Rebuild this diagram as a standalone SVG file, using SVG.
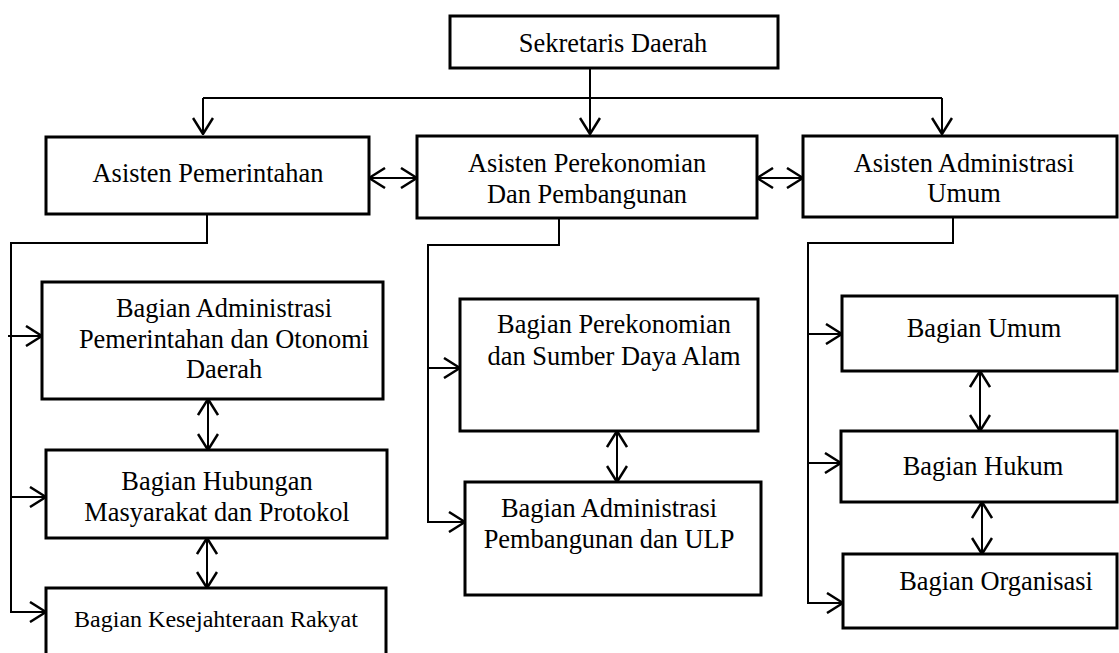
<svg xmlns="http://www.w3.org/2000/svg" width="1119" height="653" viewBox="0 0 1119 653">
<style>
.box{fill:#fff;stroke:#000;stroke-width:3}
.t{font-family:"Liberation Serif","Times New Roman",serif;font-size:26.4px;fill:#000;text-anchor:middle}
.s{font-size:24px}
.c{fill:none;stroke:#000;stroke-width:2}
.a{marker-end:url(#ah)}
.d{marker-start:url(#ah);marker-end:url(#ah)}
</style>
<defs>
<marker id="ah" viewBox="0 0 18 22" refX="17" refY="11" markerWidth="18" markerHeight="22" markerUnits="userSpaceOnUse" orient="auto-start-reverse">
<path d="M1,1 L17,11 L1,21" fill="none" stroke="#000" stroke-width="2.5"/>
</marker>
</defs>
<rect width="1119" height="653" fill="#fff"/>
<g id="connectors">
<path class="c a" d="M590,68 V134"/>
<path class="c" d="M203,98 H942"/>
<path class="c a" d="M203,98 V134"/>
<path class="c a" d="M942,98 V134"/>
<path class="c d" d="M369,178 H417"/>
<path class="c d" d="M757,178 H803"/>
<path class="c a" d="M207,214 V243 H11 V612 H46"/>
<path class="c a" d="M8,336 H42"/>
<path class="c a" d="M11,497 H46"/>
<path class="c d" d="M208,399 V450"/>
<path class="c d" d="M207,538 V588"/>
<path class="c a" d="M559,218 V245 H428 V522 H465"/>
<path class="c a" d="M428,368 H460"/>
<path class="c d" d="M617,431 V482"/>
<path class="c a" d="M953,217 V243 H808 V603 H843"/>
<path class="c a" d="M808,334 H842"/>
<path class="c a" d="M808,463 H841"/>
<path class="c d" d="M980,371 V431"/>
<path class="c d" d="M982,502 V554"/>
</g>
<g id="sekda"><rect class="box" x="450" y="16" width="328" height="52"/><text class="t" x="613" y="52">Sekretaris Daerah</text></g>
<g id="asisten-pemerintahan"><rect class="box" x="46" y="137" width="323" height="77"/><text class="t" x="208" y="182">Asisten Pemerintahan</text></g>
<g id="asisten-perekonomian"><rect class="box" x="417" y="136" width="340" height="82"/><text class="t" x="587" y="172">Asisten Perekonomian</text><text class="t" x="587" y="203">Dan Pembangunan</text></g>
<g id="asisten-administrasi"><rect class="box" x="803" y="136" width="314" height="81"/><text class="t" x="964" y="172">Asisten Administrasi</text><text class="t" x="964" y="202">Umum</text></g>
<g id="bagian-adm-pem"><rect class="box" x="42" y="282" width="341" height="117"/><text class="t" x="224" y="317">Bagian Administrasi</text><text class="t" x="224" y="348">Pemerintahan dan Otonomi</text><text class="t" x="224" y="378">Daerah</text></g>
<g id="bagian-humas"><rect class="box" x="46" y="450" width="341" height="88"/><text class="t" x="217" y="490">Bagian Hubungan</text><text class="t" x="217" y="521">Masyarakat dan Protokol</text></g>
<g id="bagian-kesra"><rect class="box" x="46" y="588" width="340" height="80"/><text class="t s" x="216" y="627">Bagian Kesejahteraan Rakyat</text></g>
<g id="bagian-perekonomian"><rect class="box" x="460" y="299" width="298" height="132"/><text class="t" x="614" y="333">Bagian Perekonomian</text><text class="t" x="614" y="365">dan Sumber Daya Alam</text></g>
<g id="bagian-adm-pembangunan"><rect class="box" x="465" y="482" width="296" height="113"/><text class="t" x="609" y="517">Bagian Administrasi</text><text class="t" x="609" y="548">Pembangunan dan ULP</text></g>
<g id="bagian-umum"><rect class="box" x="842" y="296" width="275" height="75"/><text class="t" x="984" y="337">Bagian Umum</text></g>
<g id="bagian-hukum"><rect class="box" x="841" y="431" width="276" height="71"/><text class="t" x="983" y="475">Bagian Hukum</text></g>
<g id="bagian-organisasi"><rect class="box" x="843" y="554" width="274" height="74"/><text class="t" x="996" y="590">Bagian Organisasi</text></g>
</svg>
